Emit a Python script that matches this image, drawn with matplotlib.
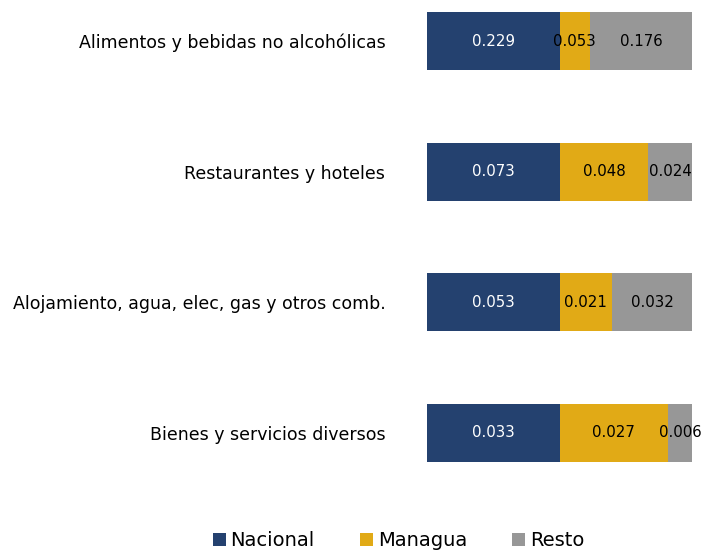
import matplotlib
matplotlib.use("Agg")
import matplotlib.pyplot as plt
import numpy as np

categorias = ["Alimentos y bebidas no alcohólicas",
              "Restaurantes y hoteles",
              "Alojamiento, agua, elec, gas y otros comb.",
              "Bienes y servicios diversos"]
nacional = [0.229, 0.073, 0.053, 0.033]
managua = [0.053, 0.048, 0.021, 0.027]
resto = [0.176, 0.024, 0.032, 0.006]

series = ["Nacional", "Managua", "Resto"]
colores = ["#24416f", "#e1aa16", "#979797"]
texto_col = ["white", "black", "black"]

plt.rcParams['font.family'] = ['DejaVu Sans']

fig = plt.figure(figsize=(7.05, 5.52), dpi=100)
ax = fig.add_axes([427 / 705, 1 - 462 / 552, 265 / 705, 450 / 552])

datos = np.array([nacional, managua, resto])
totales = datos.sum(axis=0)
pct = datos / totales
y = np.arange(len(categorias))

izq = np.zeros(len(categorias))
for i, nombre in enumerate(series):
    ax.barh(y, pct[i], left=izq, height=0.446, color=colores[i], label=nombre)
    for j in range(len(categorias)):
        ax.text(izq[j] + pct[i][j] / 2, y[j], f"{datos[i][j]:.3f}",
                ha="center", va="center", fontsize=10.8, color=texto_col[i])
    izq += pct[i]

ax.set_xlim(0, 1)
ax.set_ylim(3.223, -0.223)
ax.set_yticks(y)
ax.set_yticklabels(categorias, fontsize=12.5)
ax.tick_params(axis="y", length=0, pad=30)
ax.set_xticks([])
for s in ax.spines.values():
    s.set_visible(False)

fig.legend(loc="center", bbox_to_anchor=(0.565, 1 - 541 / 552), ncol=3,
           frameon=False, fontsize=14, handlelength=0.67, handleheight=0.67,
           handletextpad=0.26, columnspacing=2.3)

fig.savefig("out.png", dpi=100)
